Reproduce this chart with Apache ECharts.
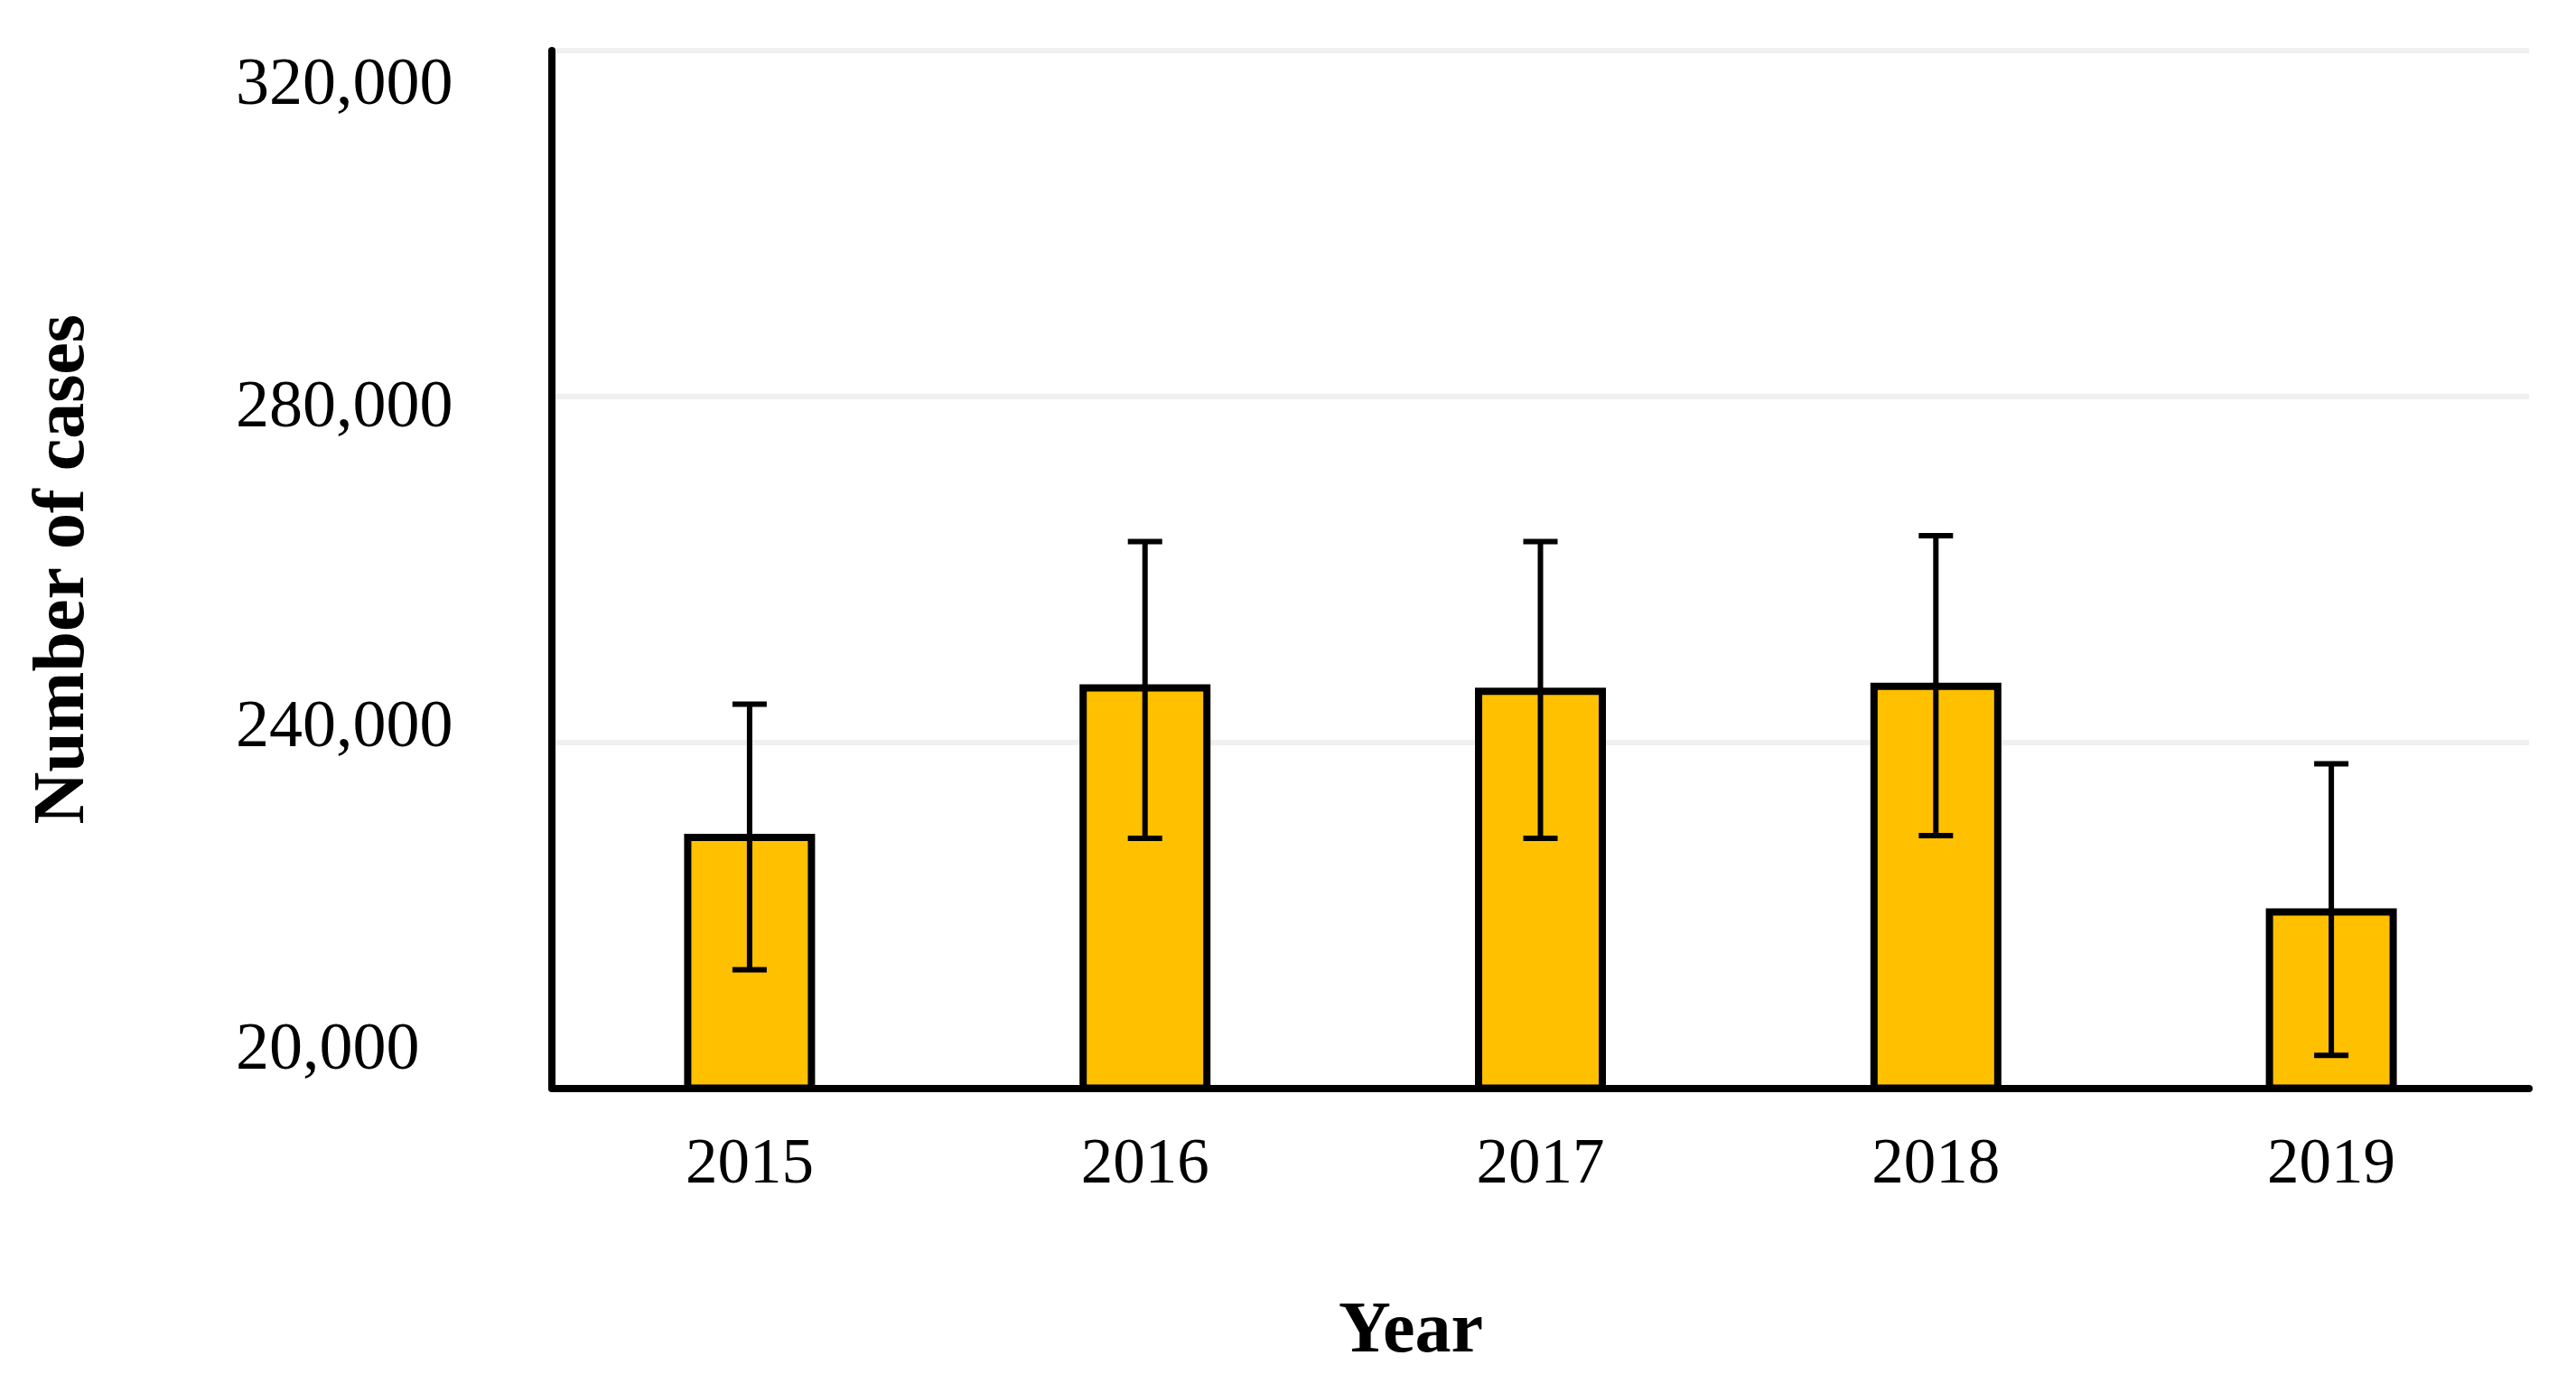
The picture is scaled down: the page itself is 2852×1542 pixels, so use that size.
<!DOCTYPE html>
<html>
<head>
<meta charset="utf-8">
<script src="https://cdn.jsdelivr.net/npm/echarts@6/dist/echarts.min.js"></script>
<style>
html, body { margin: 0; padding: 0; background: #ffffff; }
#chart { width: 2852px; height: 1542px; }
</style>
</head>
<body>
<div id="chart"></div>
<script>
// ---- Data ----
const categories = ['2015', '2016', '2017', '2018', '2019'];
const meanCases = [229400, 246700, 246300, 246900, 220800];
const errLower = [213700, 228900, 228900, 229200, 203800];
const errUpper = [244400, 263200, 263200, 263900, 237500];
const yTickLabels = ['20,000', '240,000', '280,000', '320,000'];
const yMin = 200000, yMax = 320000, yStep = 40000;

const serif = '"Liberation Serif", "Times New Roman", serif';

// per-label vertical nudges (labels in the reference are not exactly on the grid lines)
const labelPads = [[0, 0, 81, 0], [0, 0, 30, 0], [27, 0, 0, 0], [80, 0, 0, 0]];
const rich = {};
labelPads.forEach((p, i) => {
  rich['t' + i] = { fontFamily: serif, fontSize: 74, color: '#000', padding: p };
});

const chart = echarts.init(document.getElementById('chart'), null, { renderer: 'canvas' });

const errData = categories.map((c, i) => [i, errLower[i], errUpper[i]]);

chart.setOption({
  backgroundColor: '#ffffff',
  animation: false,
  grid: { left: 611, right: 52, top: 56, bottom: 337.5, containLabel: false },
  xAxis: {
    type: 'category',
    data: categories,
    boundaryGap: true,
    axisLine: { show: true, lineStyle: { color: '#000', width: 8 } },
    axisTick: { show: false },
    axisLabel: { fontFamily: serif, fontSize: 71, color: '#000', margin: 50 },
    name: 'Year',
    nameLocation: 'middle',
    nameGap: 231,
    nameTextStyle: { fontFamily: serif, fontSize: 80, fontWeight: 'bold', color: '#000', padding: [0, 287, 0, 0] }
  },
  yAxis: {
    type: 'value',
    min: yMin,
    max: yMax,
    interval: yStep,
    axisLine: { show: true, lineStyle: { color: '#000', width: 8 } },
    axisTick: { show: false },
    splitLine: { show: true, lineStyle: { color: '#f0f0f0', width: 6 } },
    axisLabel: {
      align: 'left',
      margin: 350,
      fontFamily: serif,
      fontSize: 74,
      color: '#000',
      formatter: function (v, idx) {
        const k = Math.round((v - yMin) / yStep);
        return '{t' + k + '|' + yTickLabels[k] + '}';
      },
      rich: rich
    },
    name: 'Number of cases',
    nameLocation: 'middle',
    nameGap: 500,
    nameTextStyle: { fontFamily: serif, fontSize: 80, fontWeight: 'bold', color: '#000' }
  },
  series: [
    {
      type: 'bar',
      data: meanCases,
      barWidth: 145,
      itemStyle: { color: '#FFC000', borderColor: '#000', borderWidth: 8 },
      z: 2
    },
    {
      type: 'custom',
      data: errData,
      encode: { x: 0, y: [1, 2] },
      z: 3,
      renderItem: function (params, api) {
        const idx = api.value(0);
        const lo = api.coord([idx, api.value(1)]);
        const hi = api.coord([idx, api.value(2)]);
        const half = 19;
        const st = { stroke: '#000', lineWidth: 6 };
        return {
          type: 'group',
          children: [
            { type: 'line', shape: { x1: lo[0], y1: lo[1], x2: hi[0], y2: hi[1] }, style: st },
            { type: 'line', shape: { x1: hi[0] - half, y1: hi[1], x2: hi[0] + half, y2: hi[1] }, style: st },
            { type: 'line', shape: { x1: lo[0] - half, y1: lo[1], x2: lo[0] + half, y2: lo[1] }, style: st }
          ]
        };
      }
    }
  ]
});
</script>
</body>
</html>
